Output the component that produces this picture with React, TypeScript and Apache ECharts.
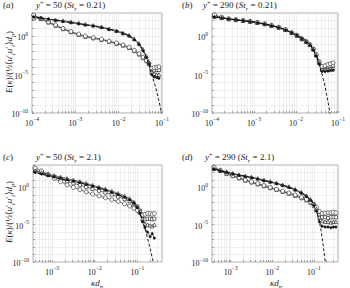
import React, { useEffect, useRef } from 'react';
import * as echarts from 'echarts';

const SERIF = "'Liberation Serif', 'DejaVu Serif', serif";

// ---------- Panel (a): y+ = 50, St = 0.21 ----------
const kA = [1.1e-4, 1.6e-4, 2.4e-4, 3.5e-4, 5.2e-4, 7.9e-4, 1.2e-3, 1.7e-3, 2.6e-3, 4.0e-3, 6.0e-3, 8.9e-3, 1.26e-2, 1.74e-2, 2.29e-2, 2.95e-2, 3.63e-2, 4.37e-2, 5.0e-2, 5.75e-2, 6.6e-2, 7.6e-2, 8.5e-2];
const aDots = [3.2e2, 2.2e2, 1.6e2, 1.1e2, 7.9e1, 5.6e1, 4.0e1, 2.8e1, 2.0e1, 1.3e1, 7.1, 4.0, 2.0, 1.0, 3.2e-1, 7.9e-2, 1.3e-2, 1.6e-3, 2.5e-4, 1.0e-5, 5.0e-6, 4.0e-6, 3.2e-6];
const aTri = [2.2e2, 2.0e2, 1.6e2, 1.3e2, 1.0e2, 7.1e1, 5.0e1, 3.5e1, 2.5e1, 1.6e1, 8.9, 5.0, 2.5, 1.3, 4.5e-1, 1.1e-1, 2.0e-2, 2.5e-3, 4.0e-4, 2.5e-5, 1.3e-5, 1.0e-5, 1.0e-5];
const aCirc = [5.6e2, 2.0e2, 7.1e1, 2.8e1, 1.0e1, 4.0, 1.8, 1.0, 6.3e-1, 4.0e-1, 2.2e-1, 1.3e-1, 7.1e-2, 3.5e-2, 1.4e-2, 5.0e-3, 1.8e-3, 7.1e-4, 2.8e-4, 6.3e-5, 7.9e-5, 8.9e-5, 1.0e-4];
const aSq = [4.5e2, 1.6e2, 5.6e1, 2.2e1, 7.9, 3.2, 1.4, 7.9e-1, 5.0e-1, 3.2e-1, 1.8e-1, 1.0e-1, 5.6e-2, 2.8e-2, 1.1e-2, 4.0e-3, 1.4e-3, 5.6e-4, 2.2e-4, 3.2e-5, 3.5e-5, 4.0e-5, 4.0e-5];
const aModelK = [1.0e-4, 3.16e-4, 1.0e-3, 3.16e-3, 1.0e-2, 1.58e-2, 2.51e-2, 3.16e-2, 3.98e-2, 5.01e-2, 6.03e-2, 7.08e-2, 8.32e-2, 9.55e-2, 0.105];
const aModelE = [3.5e2, 1.3e2, 4.5e1, 1.6e1, 4.5, 1.6, 2.5e-1, 5.0e-2, 5.0e-3, 2.5e-4, 5.0e-6, 2.5e-7, 6.3e-9, 2.0e-10, 2.5e-11];

// ---------- Panel (b): y+ = 290, St = 0.21 ----------
const kB = [1.15e-4, 1.7e-4, 2.5e-4, 3.7e-4, 5.5e-4, 8.1e-4, 1.2e-3, 1.8e-3, 2.6e-3, 3.9e-3, 5.6e-3, 7.9e-3, 1.05e-2, 1.38e-2, 1.74e-2, 2.14e-2, 2.57e-2, 3.02e-2, 3.55e-2, 4.17e-2, 4.9e-2, 5.75e-2, 6.6e-2, 7.6e-2];
const bCirc = [5.6e2, 2.8e2, 1.8e2, 1.4e2, 1.1e2, 8.3e1, 6.0e1, 4.0e1, 2.5e1, 1.4e1, 7.1, 2.8, 1.3, 4.5e-1, 2.0e-1, 7.9e-2, 2.2e-2, 4.0e-3, 5.0e-4, 1.1e-4, 1.4e-4, 2.0e-4, 2.5e-4, 3.2e-4];
const bSq = [4.0e2, 2.5e2, 1.6e2, 1.3e2, 1.0e2, 7.6e1, 5.5e1, 3.7e1, 2.3e1, 1.3e1, 6.3, 2.5, 1.1, 4.0e-1, 1.8e-1, 7.1e-2, 2.0e-2, 3.2e-3, 3.5e-4, 6.3e-5, 7.9e-5, 1.0e-4, 1.1e-4, 1.3e-4];
const bDots = [2.8e2, 2.2e2, 1.6e2, 1.3e2, 9.5e1, 7.1e1, 5.0e1, 3.3e1, 2.1e1, 1.2e1, 6.0, 2.5, 1.1, 4.2e-1, 1.6e-1, 6.3e-2, 1.6e-2, 2.5e-3, 2.5e-4, 2.5e-5, 2.5e-5, 2.8e-5, 3.2e-5, 3.5e-5];
const bTri = [3.2e2, 2.4e2, 1.7e2, 1.3e2, 1.0e2, 7.9e1, 5.6e1, 3.8e1, 2.4e1, 1.4e1, 6.6, 2.8, 1.3, 4.5e-1, 1.9e-1, 7.6e-2, 2.1e-2, 3.5e-3, 4.0e-4, 4.5e-5, 4.5e-5, 5.0e-5, 5.6e-5, 6.3e-5];
const bModelK = [1.0e-4, 3.16e-4, 1.0e-3, 3.16e-3, 6.31e-3, 1.0e-2, 1.58e-2, 2.24e-2, 2.82e-2, 3.39e-2, 3.98e-2, 4.68e-2, 5.37e-2, 6.03e-2, 6.61e-2];
const bModelE = [3.5e2, 1.4e2, 7.1e1, 1.8e1, 5.6, 1.8, 4.0e-1, 6.3e-2, 6.3e-3, 4.0e-4, 2.5e-5, 1.0e-6, 2.5e-8, 7.9e-10, 4.0e-11];

// ---------- Panel (c): y+ = 50, St = 2.1 ----------
const kC = [3.98e-4, 5.62e-4, 7.94e-4, 1.12e-3, 1.58e-3, 2.24e-3, 3.16e-3, 4.47e-3, 6.31e-3, 8.91e-3, 1.26e-2, 1.78e-2, 2.51e-2, 3.55e-2, 5.01e-2, 6.61e-2, 8.32e-2, 0.1, 0.115, 0.132, 0.151, 0.174, 0.2, 0.224, 0.251];
const cDots = [1.0e2, 6.3e1, 4.0e1, 2.8e1, 1.8e1, 1.1e1, 7.1, 4.5, 2.5, 1.4, 7.9e-1, 4.5e-1, 2.2e-1, 1.1e-1, 5.0e-2, 2.2e-2, 7.9e-3, 2.0e-3, 3.2e-4, 2.5e-5, 4.0e-6, 1.0e-6, 2.5e-7, 6.3e-7, 1.6e-7];
const cTri = [1.6e2, 1.0e2, 6.3e1, 4.0e1, 2.5e1, 1.6e1, 1.0e1, 6.3, 3.5, 2.0, 1.1, 6.3e-1, 3.2e-1, 1.6e-1, 7.1e-2, 3.2e-2, 1.1e-2, 3.2e-3, 6.3e-4, 6.3e-5, 1.3e-5, 1.0e-5, 7.9e-6, 6.3e-6, 1.0e-5];
const cSq = [2.0e2, 1.0e2, 5.0e1, 2.5e1, 1.3e1, 6.3, 3.5, 2.0, 1.1, 6.3e-1, 3.5e-1, 2.0e-1, 1.1e-1, 5.6e-2, 2.8e-2, 1.4e-2, 6.3e-3, 2.5e-3, 7.9e-4, 1.6e-4, 5.0e-5, 6.3e-5, 6.3e-5, 5.0e-5, 6.3e-5];
const cCirc = [4.0e2, 1.6e2, 5.0e1, 1.6e1, 5.6, 2.2, 1.0, 5.0e-1, 2.5e-1, 1.3e-1, 7.1e-2, 4.0e-2, 2.2e-2, 1.3e-2, 6.3e-3, 3.2e-3, 1.6e-3, 7.9e-4, 4.0e-4, 2.0e-4, 2.5e-4, 3.2e-4, 3.2e-4, 2.5e-4, 3.2e-4];
const cModelK = [3.55e-4, 1.0e-3, 3.16e-3, 1.0e-2, 3.16e-2, 6.31e-2, 8.91e-2, 0.112, 0.132, 0.151, 0.174, 0.2, 0.224, 0.251];
const cModelE = [1.3e2, 2.2e1, 6.3, 1.3, 1.4e-1, 2.5e-2, 5.0e-3, 6.3e-4, 5.0e-5, 3.2e-6, 1.6e-7, 6.3e-9, 4.0e-10, 2.5e-11];

// ---------- Panel (d): y+ = 290, St = 2.1 ----------
const kD = [3.98e-4, 5.62e-4, 7.94e-4, 1.12e-3, 1.58e-3, 2.24e-3, 3.16e-3, 4.47e-3, 6.31e-3, 8.91e-3, 1.26e-2, 1.78e-2, 2.51e-2, 3.55e-2, 5.01e-2, 6.61e-2, 8.32e-2, 0.1, 0.115, 0.135, 0.158, 0.186, 0.219, 0.257, 0.295, 0.339];
const dDots = [2.5e2, 1.6e2, 1.0e2, 6.3e1, 4.0e1, 2.8e1, 2.0e1, 1.3e1, 7.9, 5.0, 3.2, 1.8, 1.0, 4.5e-1, 1.8e-1, 6.3e-2, 1.8e-2, 4.0e-3, 6.3e-4, 2.5e-5, 6.3e-6, 5.0e-6, 5.0e-6, 4.0e-6, 5.0e-6, 5.0e-6];
const dTri = [3.2e2, 2.0e2, 1.3e2, 7.9e1, 5.0e1, 3.5e1, 2.5e1, 1.6e1, 1.0e1, 6.3, 4.0, 2.2, 1.3, 5.6e-1, 2.2e-1, 7.9e-2, 2.5e-2, 6.3e-3, 1.3e-3, 1.0e-4, 3.2e-5, 2.5e-5, 2.5e-5, 2.0e-5, 2.5e-5, 2.5e-5];
const dSq = [4.0e2, 1.6e2, 6.3e1, 3.2e1, 1.6e1, 7.9, 4.5, 2.5, 1.4, 7.9e-1, 4.5e-1, 2.5e-1, 1.4e-1, 7.1e-2, 3.5e-2, 1.8e-2, 7.9e-3, 3.2e-3, 1.0e-3, 2.0e-4, 1.0e-4, 1.0e-4, 7.9e-5, 1.0e-4, 1.0e-4, 1.0e-4];
const dCirc = [5.0e2, 2.0e2, 7.9e1, 4.0e1, 2.0e1, 1.0e1, 5.6, 3.2, 1.8, 1.0, 5.6e-1, 3.2e-1, 1.8e-1, 1.0e-1, 5.0e-2, 2.5e-2, 1.3e-2, 5.6e-3, 2.2e-3, 6.3e-4, 3.2e-4, 3.5e-4, 4.0e-4, 4.0e-4, 4.5e-4, 4.0e-4];
const dModelK = [3.55e-4, 1.0e-3, 3.16e-3, 1.0e-2, 3.16e-2, 6.31e-2, 8.91e-2, 0.112, 0.132, 0.151, 0.166, 0.182, 0.195];
const dModelE = [3.2e2, 7.9e1, 2.0e1, 4.5, 6.3e-1, 7.9e-2, 1.3e-2, 1.3e-3, 6.3e-5, 1.0e-6, 2.5e-8, 4.0e-10, 2.5e-11];

// Axis decades (log10 exponents)
const xDecadesAB = [-4, -3, -2, -1];
const xDecadesCD = [-3, -2, -1];
const yLabelDecades = [-10, -5, 0];
const panelLetters = ['a', 'b', 'c', 'd'];
const panelYPlus = ['50', '290', '50', '290'];
const panelSt = ['0.21', '0.21', '2.1', '2.1'];

const GRIDS = [
  { left: 32, top: 13, width: 130, height: 100 },
  { left: 212, top: 13, width: 126, height: 100 },
  { left: 33, top: 165, width: 129, height: 97 },
  { left: 212, top: 165, width: 126, height: 97 },
];
const XRANGE = [[-4, -1], [-4, -1], [-3.45, -0.42], [-3.45, -0.42]];
const YRANGE = [-10, 3];

const INK = '#1a1a1a';

function pairs(k: number[], e: number[]) {
  return k.map((x, i) => [Math.log10(x), Math.log10(e[i])]);
}

function minorTicks(lo: number, hi: number) {
  const out: number[] = [];
  for (let n = Math.floor(lo); n <= Math.ceil(hi); n++) {
    for (let k = 1; k <= 9; k++) {
      const v = n + Math.log10(k);
      if (v >= lo - 1e-9 && v <= hi + 1e-9) out.push(v);
    }
  }
  return out;
}

function expLabel(v: number) {
  const r = Math.round(v);
  const s = (r < 0 ? '\u2212' : '') + Math.abs(r);
  return `{b|10}{s|${s}}`;
}

const tickRich = {
  b: { fontSize: 8, fontFamily: SERIF, color: '#222', lineHeight: 11, verticalAlign: 'bottom' },
  s: { fontSize: 5.5, fontFamily: SERIF, color: '#222', lineHeight: 7, verticalAlign: 'top' },
};

const txtRich = {
  n: { fontSize: 9, fontFamily: SERIF, fill: INK, lineHeight: 12, verticalAlign: 'middle' },
  i: { fontSize: 9, fontFamily: SERIF, fontStyle: 'italic', fill: INK, lineHeight: 12, verticalAlign: 'middle' },
  sp: { fontSize: 6.3, fontFamily: SERIF, fill: INK, lineHeight: 7, verticalAlign: 'top' },
  sb: { fontSize: 6.3, fontFamily: SERIF, fontStyle: 'italic', fill: INK, lineHeight: 7, verticalAlign: 'bottom' },
};

type PanelData = { k: number[]; sets: { e: number[]; kind: string }[]; mk: number[]; me: number[] };

const PANELS: PanelData[] = [
  { k: kA, sets: [{ e: aSq, kind: 'sq' }, { e: aCirc, kind: 'circ' }, { e: aTri, kind: 'tri' }, { e: aDots, kind: 'dots' }], mk: aModelK, me: aModelE },
  { k: kB, sets: [{ e: bSq, kind: 'sq' }, { e: bCirc, kind: 'circ' }, { e: bTri, kind: 'tri' }, { e: bDots, kind: 'dots' }], mk: bModelK, me: bModelE },
  { k: kC, sets: [{ e: cSq, kind: 'sq' }, { e: cCirc, kind: 'circ' }, { e: cTri, kind: 'tri' }, { e: cDots, kind: 'dots' }], mk: cModelK, me: cModelE },
  { k: kD, sets: [{ e: dSq, kind: 'sq' }, { e: dCirc, kind: 'circ' }, { e: dTri, kind: 'tri' }, { e: dDots, kind: 'dots' }], mk: dModelK, me: dModelE },
];

const MARKERS: Record<string, { symbol: string; size: number; fill: string }> = {
  dots: { symbol: 'circle', size: 2.4, fill: INK },
  tri: { symbol: 'triangle', size: 3.6, fill: '#fff' },
  sq: { symbol: 'rect', size: 3.2, fill: '#fff' },
  circ: { symbol: 'circle', size: 4, fill: '#fff' },
};

function buildOption() {
  const grid = GRIDS.map((g) => ({
    ...g,
    show: true,
    borderColor: '#8a8a8a',
    borderWidth: 0.7,
    backgroundColor: '#fff',
    containLabel: false,
    outerBoundsMode: 'none',
  }));

  const xAxis = GRIDS.map((_, p) => {
    const [lo, hi] = XRANGE[p];
    return {
      type: 'value',
      gridIndex: p,
      position: 'bottom',
      min: lo,
      max: hi,
      axisLine: { show: false, onZero: false },
      axisTick: { show: true, inside: true, length: 2, lineStyle: { color: '#555', width: 0.5 }, customValues: minorTicks(lo, hi) },
      axisLabel: {
        show: true,
        customValues: p < 2 ? xDecadesAB : xDecadesCD,
        formatter: (v: number) => expLabel(v),
        margin: 3,
        rich: tickRich,
      },
      splitLine: { show: true, lineStyle: { color: '#dedede', width: 0.5 } },
    };
  });

  const yTicks: number[] = [];
  for (let v = YRANGE[0]; v <= YRANGE[1]; v++) yTicks.push(v);

  const yAxis = GRIDS.map((_, p) => ({
    type: 'value',
    gridIndex: p,
    position: 'left',
    min: YRANGE[0],
    max: YRANGE[1],
    axisLine: { show: false, onZero: false },
    axisTick: { show: true, inside: true, length: 2, lineStyle: { color: '#555', width: 0.5 }, customValues: yTicks },
    axisLabel: {
      show: true,
      customValues: yLabelDecades,
      formatter: (v: number) => expLabel(v),
      margin: 4,
      rich: tickRich,
    },
    splitLine: { show: true, lineStyle: { color: '#dedede', width: 0.5 } },
  }));

  const series: any[] = [];
  PANELS.forEach((pd, p) => {
    pd.sets.forEach((s) => {
      const m = MARKERS[s.kind];
      series.push({
        type: 'line',
        xAxisIndex: p,
        yAxisIndex: p,
        data: pairs(pd.k, s.e),
        symbol: m.symbol,
        symbolSize: m.size,
        showSymbol: true,
        clip: true,
        silent: true,
        lineStyle: { color: INK, width: 0.6 },
        itemStyle: { color: m.fill, borderColor: INK, borderWidth: 0.6 },
        emphasis: { disabled: true },
        z: 3,
      });
    });
    series.push({
      type: 'line',
      xAxisIndex: p,
      yAxisIndex: p,
      data: pairs(pd.mk, pd.me),
      symbol: 'none',
      clip: true,
      silent: true,
      lineStyle: { color: '#000', width: 0.9, type: [3, 2] },
      emphasis: { disabled: true },
      z: 4,
    });
  });

  const graphic: any[] = [];
  const letterPos = [[3, 5], [182, 5], [3, 157], [182, 157]];
  const titlePos = [[36, 5], [203, 5], [36, 157], [205, 157]];
  PANELS.forEach((_, p) => {
    graphic.push({
      type: 'text',
      x: letterPos[p][0],
      y: letterPos[p][1],
      silent: true,
      style: { text: `{n|(}{i|${panelLetters[p]}}{n|)}`, rich: txtRich, verticalAlign: 'middle', align: 'left' },
    });
    graphic.push({
      type: 'text',
      x: titlePos[p][0],
      y: titlePos[p][1],
      silent: true,
      style: {
        text: `{i|y}{sp|+}{n| = ${panelYPlus[p]} (}{i|St}{sb|r}{n| = ${panelSt[p]})}`,
        rich: txtRich,
        verticalAlign: 'middle',
        align: 'left',
      },
    });
  });
  const yLab = '{i|E}{n|(}{i|\u03ba}{n|)/(\u00bd\u27e8}{i|u}{n|\u2032}{sb|i}{i|u}{n|\u2032}{sb|i}{n|\u27e9}{i|d}{sb|p}{n|)}';
  [[9, 62], [9, 212]].forEach(([x, y]) => {
    graphic.push({
      type: 'text',
      x,
      y,
      rotation: Math.PI / 2,
      silent: true,
      style: { text: yLab, rich: txtRich, align: 'center', verticalAlign: 'middle' },
    });
  });
  [[97, 283], [276, 283]].forEach(([x, y]) => {
    graphic.push({
      type: 'text',
      x,
      y,
      silent: true,
      style: { text: '{i|\u03bad}{sb|p}', rich: txtRich, align: 'center', verticalAlign: 'middle' },
    });
  });

  return {
    animation: false,
    backgroundColor: '#fff',
    grid,
    xAxis,
    yAxis,
    series,
    graphic,
  };
}

export default function App() {
  const ref = useRef<HTMLDivElement>(null);
  useEffect(() => {
    if (!ref.current) return;
    const chart = echarts.init(ref.current, undefined, { renderer: 'svg' });
    chart.setOption(buildOption() as any);
    return () => chart.dispose();
  }, []);
  return (
    <div
      ref={ref}
      style={{ position: 'absolute', left: 0, top: 0, width: 350, height: 288, background: '#fff' }}
    />
  );
}
